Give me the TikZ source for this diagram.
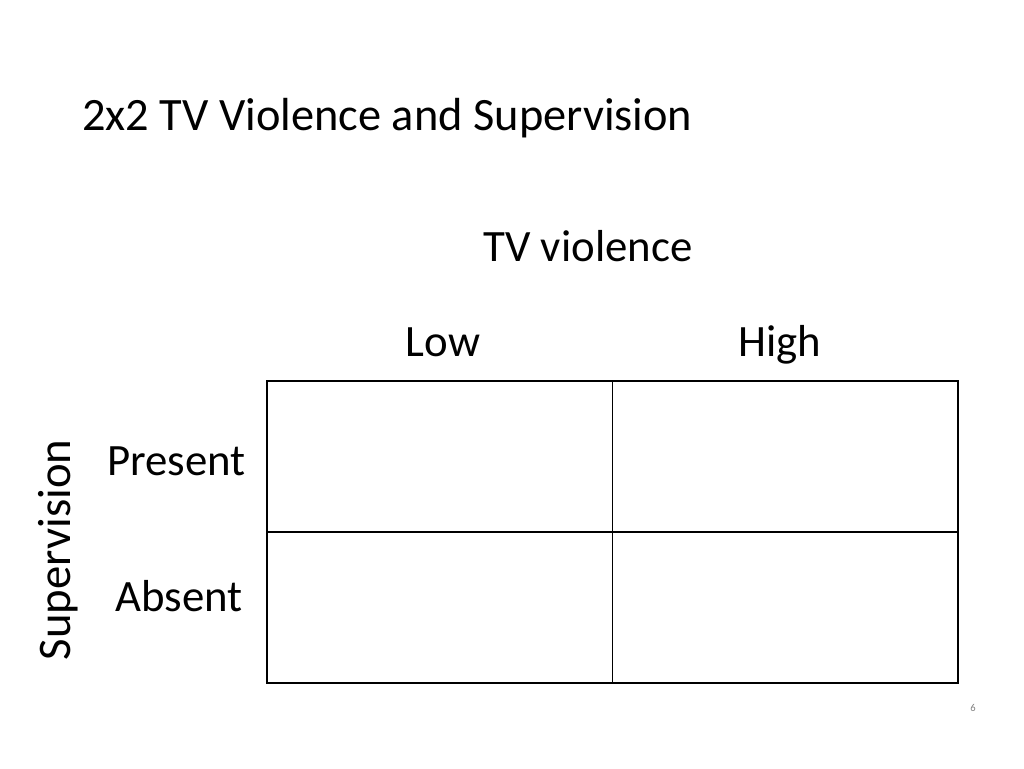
\documentclass[tikz,border=0pt]{standalone}
\usepackage{fontspec}
\setmainfont{Carlito}
\begin{document}
\begin{tikzpicture}[x=0.02cm,y=-0.02cm,
    lbl/.style={inner sep=0pt,anchor=base,font=\fontsize{25.5}{30}\selectfont},
    cell/.style={draw,line width=0.6pt,minimum width=345*0.02cm,minimum height=151*0.02cm,inner sep=0pt}]
    \useasboundingbox (0,0) rectangle (1024,768);

    % Title
    \node[lbl,anchor=base west,font=\fontsize{26.4}{30}\selectfont] (title) at (82,130) {2x2 TV Violence and Supervision};

    % Table cells
    \node[cell,anchor=north west] (pl) at (267,381) {};
    \node[cell,anchor=north west] (ph) at (612,381) {};
    \node[cell,anchor=north west] (al) at (267,531) {};
    \node[cell,anchor=north west] (ah) at (612,531) {};
    \draw[line width=1.4pt] (pl.north west) rectangle (ah.south east);

    % Labels
    \node[lbl] (tv) at (588,261) {TV violence};
    \node[lbl] (low) at (443,356) {Low};
    \node[lbl] (high) at (780,356) {High};
    \node[lbl,anchor=base east] (present) at (246,475) {Present};
    \node[lbl,anchor=base east] (absent) at (243,611) {Absent};
    \node[inner sep=0pt,rotate=90,font=\fontsize{26.6}{30}\selectfont] (sup) at (58,550) {Supervision};

    % Page number
    \node[inner sep=0pt,font=\fontsize{6}{7}\selectfont,text=gray] (page) at (973,708) {6};
\end{tikzpicture}
\end{document}
